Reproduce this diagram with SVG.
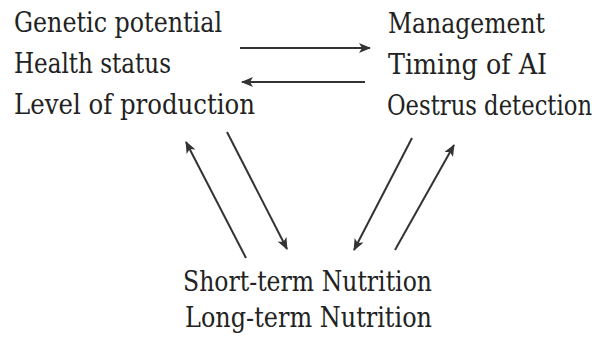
<svg xmlns="http://www.w3.org/2000/svg" width="600" height="340" viewBox="0 0 600 340">
<style>
text{font-family:'DejaVu Serif','Liberation Serif',serif;font-size:27px;fill:#222}
.c{stroke:#333;stroke-width:2;fill:none;marker-end:url(#ah)}
</style>
<defs>
<marker id="ah" markerUnits="userSpaceOnUse" markerWidth="14" markerHeight="12" refX="11" refY="5" orient="auto">
<path d="M0,0 L12,5 L0,10 L3,5 Z" fill="#333"/>
</marker>
</defs>
<rect width="600" height="340" fill="#fff"/>
<g id="left">
<text x="14" y="32" textLength="208" lengthAdjust="spacingAndGlyphs">Genetic potential</text>
<text x="14" y="73" textLength="157" lengthAdjust="spacingAndGlyphs">Health status</text>
<text x="14" y="114" textLength="241" lengthAdjust="spacingAndGlyphs">Level of production</text>
</g>
<g id="right">
<text x="388" y="33" textLength="157" lengthAdjust="spacingAndGlyphs">Management</text>
<text x="388" y="74" textLength="159" lengthAdjust="spacingAndGlyphs">Timing of AI</text>
<text x="387" y="115" textLength="205" lengthAdjust="spacingAndGlyphs">Oestrus detection</text>
</g>
<g id="bottom">
<text x="183" y="291" textLength="249" lengthAdjust="spacingAndGlyphs">Short-term Nutrition</text>
<text x="185" y="327" textLength="247" lengthAdjust="spacingAndGlyphs">Long-term Nutrition</text>
</g>
<g id="connectors">
<line class="c" x1="240" y1="48" x2="370" y2="48"/>
<line class="c" x1="365" y1="82" x2="242" y2="82"/>
<line class="c" x1="246" y1="258" x2="186" y2="142"/>
<line class="c" x1="227" y1="132" x2="287" y2="249"/>
<line class="c" x1="412" y1="138" x2="354" y2="250"/>
<line class="c" x1="395" y1="250" x2="454" y2="145"/>
</g>
</svg>
